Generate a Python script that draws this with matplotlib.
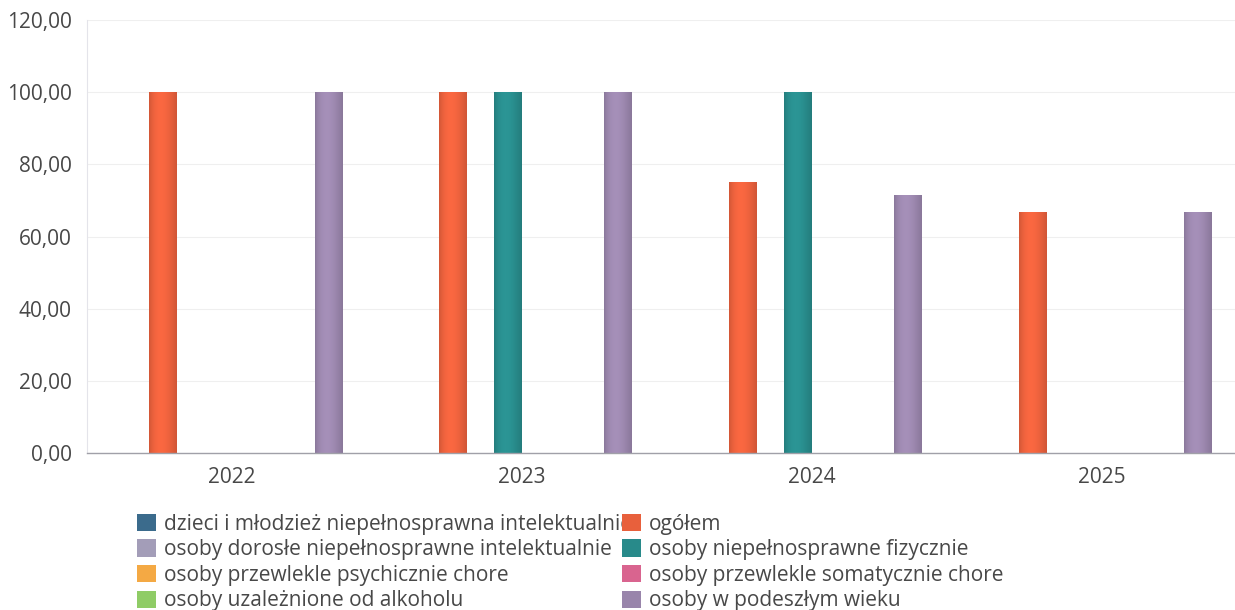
import matplotlib
matplotlib.use('Agg')
import matplotlib.pyplot as plt
import matplotlib.colors as mcolors
import numpy as np

plt.rcParams['font.family'] = ['Open Sans', 'DejaVu Sans']

years = ['2022', '2023', '2024', '2025']
series_names = [
    'dzieci i młodzież niepełnosprawna intelektualnie',
    'ogółem',
    'osoby dorosłe niepełnosprawne intelektualnie',
    'osoby niepełnosprawne fizycznie',
    'osoby przewlekle psychicznie chore',
    'osoby przewlekle somatycznie chore',
    'osoby uzależnione od alkoholu',
    'osoby w podeszłym wieku',
]
colors = ['#3b6b8c', '#e8603c', '#a39db8', '#288a8a',
          '#f4a944', '#d9648f', '#8fcc66', '#9985ab']

dzieci = [0, 0, 0, 0]
ogolem = [100, 100, 75, 66.67]
dorosle = [0, 0, 0, 0]
fizycznie = [0, 100, 100, 0]
psychicznie = [0, 0, 0, 0]
somatycznie = [0, 0, 0, 0]
alkohol = [0, 0, 0, 0]
podeszly = [100, 100, 71.43, 66.67]
values = [dzieci, ogolem, dorosle, fizycznie, psychicznie, somatycznie, alkohol, podeszly]

fig = plt.figure(figsize=(12.35, 6.1), dpi=100)
ax = fig.add_axes([0.0704, 0.2574, 0.9296, 0.7096])

x = np.arange(len(years))
slot = 0.095
width = 0.095

# soft cylinder-like shading across each bar
t = np.linspace(0, 1, 60)
shade = 0.90 + 0.18 * np.sin(np.pi * (t ** 0.8))

for i, (name, vals, c) in enumerate(zip(series_names, values, colors)):
    offs = (i - 3.5) * slot
    bars = ax.bar(x + offs, vals, width, color=c, label=name, zorder=2)
    base = np.array(mcolors.to_rgb(c))
    grad = np.clip(base[None, :] * shade[:, None], 0, 1)[None, :, :]
    for b in bars:
        if b.get_height() > 0:
            im = ax.imshow(grad, extent=[b.get_x(), b.get_x() + b.get_width(), 0, b.get_height()],
                           aspect='auto', zorder=2.1, interpolation='bilinear')
            im.set_clip_path(b)

ax.set_xlim(-0.5, 3.46)
ax.set_ylim(0, 120)
ax.set_yticks(np.arange(0, 121, 20))
ax.set_yticklabels([f'{v:.2f}'.replace('.', ',') for v in np.arange(0, 121, 20)])
ax.set_xticks(x)
ax.set_xticklabels(years)
ax.tick_params(axis='both', length=0, labelsize=15, colors='#484848')
ax.tick_params(axis='y', pad=11)
ax.tick_params(axis='x', pad=10)

ax.grid(axis='y', color='#efefef', linewidth=0.8, zorder=0)
ax.set_axisbelow(True)
for s in ['top', 'right']:
    ax.spines[s].set_visible(False)
ax.spines['left'].set_color('#e4e4ea')
ax.spines['left'].set_linewidth(0.8)
ax.spines['bottom'].set_color('#a0a0a8')
ax.spines['bottom'].set_linewidth(1.0)

# legend fills row by row in the reference
handles, labels = ax.get_legend_handles_labels()
order = [0, 2, 4, 6, 1, 3, 5, 7]
fig.legend([handles[k] for k in order], [labels[k] for k in order], ncol=2,
           loc='upper left', bbox_to_anchor=(0.111, 0.158),
           frameon=False, fontsize=15, handlelength=0.9, handleheight=0.9,
           handletextpad=0.4, labelspacing=0.22, columnspacing=-0.5,
           borderpad=0, borderaxespad=0, labelcolor='#484848')

fig.savefig('out.png', dpi=100)
